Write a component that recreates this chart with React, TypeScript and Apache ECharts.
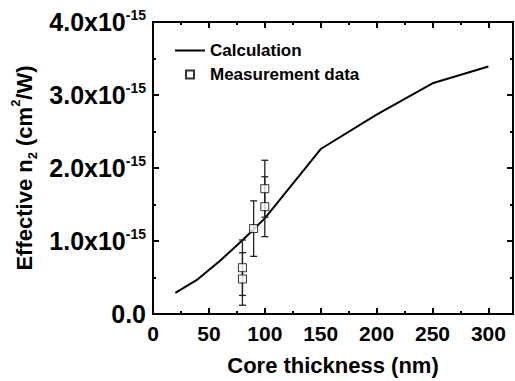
import React, { useEffect, useRef } from "react";
import * as echarts from "echarts";

// Core thickness (nm) and effective n2 in units of 1e-15 cm^2/W
const calcX = [20, 40, 60, 80, 100, 150, 200, 250, 300];
const calcY = [0.29, 0.475, 0.73, 1.01, 1.31, 2.26, 2.73, 3.16, 3.39];

const measX = [80, 80, 90, 100, 100];
const measY = [0.634, 0.48, 1.17, 1.47, 1.716];
const measErr = [0.38, 0.36, 0.38, 0.41, 0.39];

const yTicks = [0, 1, 2, 3, 4];

const FONT = "Liberation Sans";

export default function App() {
  const ref = useRef<HTMLDivElement>(null);
  useEffect(() => {
    if (!ref.current) return;
    const chart = echarts.init(ref.current, undefined, { renderer: "svg" });
    const lineData = calcX.map((x, i) => [x, calcY[i]]);
    const scatterData = measX.map((x, i) => [x, measY[i]]);
    const errData = measX.map((x, i) => [x, measY[i], measErr[i]]);
    const axisLineStyle = { color: "#000", width: 2 };
    const baseX = {
      type: "value" as const,
      min: 0,
      max: 322,
      splitLine: { show: false },
      axisLine: { show: true, onZero: false, lineStyle: axisLineStyle },
    };
    const baseY = {
      type: "value" as const,
      min: 0,
      max: 4,
      interval: 1,
      splitLine: { show: false },
      axisLine: { show: true, onZero: false, lineStyle: axisLineStyle },
      axisTick: { show: true, inside: true, length: 6, lineStyle: { color: "#000", width: 2 } },
      minorTick: { show: true, splitNumber: 2, length: 3, lineStyle: { color: "#000", width: 2 } },
    };
    chart.setOption({
      animation: false,
      backgroundColor: "#fff",
      textStyle: { fontFamily: FONT },
      grid: { left: 153, right: 2, top: 22, bottom: 67, containLabel: false, outerBoundsMode: "none" },
      legend: {
        orient: "vertical",
        left: 170,
        top: 37,
        itemWidth: 30,
        itemHeight: 8,
        itemGap: 7,
        textStyle: { fontFamily: FONT, fontSize: 17, fontWeight: "bold", color: "#000" },
        data: [
          { name: "Calculation", icon: "path://M0,0h30v2h-30z" },
          { name: "Measurement data", icon: "path://M0,0h10v10h-10z" },
        ],
      },
      xAxis: [
        {
          ...baseX,
          position: "bottom",
          interval: 50,
          axisTick: { show: true, inside: true, length: 6, lineStyle: { color: "#000", width: 2 } },
          axisLabel: {
            show: true,
            margin: 9,
            fontFamily: FONT,
            fontSize: 21,
            fontWeight: "bold",
            color: "#000",
            showMaxLabel: false,
          },
          name: "Core thickness (nm)",
          nameLocation: "middle",
          nameGap: 40,
          nameMoveOverlap: false,
          nameTextStyle: { fontFamily: FONT, fontSize: 22, fontWeight: "bold", color: "#000" },
        },
        {
          ...baseX,
          position: "bottom",
          interval: 25,
          axisTick: { show: true, inside: true, length: 3, lineStyle: { color: "#000", width: 2 } },
          axisLabel: { show: false },
        },
        {
          ...baseX,
          position: "top",
          interval: 50,
          axisTick: { show: true, inside: true, length: 6, lineStyle: { color: "#000", width: 2 } },
          axisLabel: { show: false },
        },
        {
          ...baseX,
          position: "top",
          interval: 25,
          axisTick: { show: true, inside: true, length: 3, lineStyle: { color: "#000", width: 2 } },
          axisLabel: { show: false },
        },
      ],
      yAxis: [
        {
          ...baseY,
          position: "left",
          axisLabel: {
            show: true,
            margin: 7,
            color: "#000",
            fontFamily: FONT,
            fontSize: 25,
            fontWeight: "bold",
            formatter: (v: number) => {
              const idx = yTicks.indexOf(v);
              if (idx === 0) return "{m|0.0}";
              return `{m|${v.toFixed(1)}x10}{s|-15}`;
            },
            rich: {
              m: { fontFamily: FONT, fontSize: 25, fontWeight: "bold", color: "#000", lineHeight: 29 },
              s: { fontFamily: FONT, fontSize: 14, fontWeight: "bold", color: "#000", lineHeight: 14, verticalAlign: "top" },
            },
          },
          name: "{a|Effective n}{b|2}{a| (cm}{c|2}{a|/W)}",
          nameLocation: "middle",
          nameGap: 114,
          nameMoveOverlap: false,
          nameTextStyle: {
            color: "#000",
            rich: {
              a: { fontFamily: FONT, fontSize: 22, fontWeight: "bold", color: "#000", lineHeight: 30 },
              b: { fontFamily: FONT, fontSize: 13, fontWeight: "bold", color: "#000", lineHeight: 13, verticalAlign: "bottom" },
              c: { fontFamily: FONT, fontSize: 13, fontWeight: "bold", color: "#000", lineHeight: 13, verticalAlign: "top" },
            },
          },
        },
        {
          ...baseY,
          position: "right",
          axisLabel: { show: false },
        },
      ],
      series: [
        {
          name: "Calculation",
          type: "line",
          xAxisIndex: 0,
          yAxisIndex: 0,
          data: lineData,
          symbol: "none",
          lineStyle: { color: "#000", width: 2 },
          itemStyle: { color: "#000" },
          z: 2,
        },
        {
          name: "Error",
          type: "custom",
          xAxisIndex: 0,
          yAxisIndex: 0,
          data: errData,
          encode: { x: 0, y: 1 },
          z: 3,
          renderItem: (params: any, api: any) => {
            const x = api.value(0);
            const y = api.value(1);
            const e = api.value(2);
            const top = api.coord([x, y + e]);
            const bot = api.coord([x, y - e]);
            const hw = 3.5;
            const style = { stroke: "#222", lineWidth: 1.3 };
            return {
              type: "group",
              children: [
                { type: "line", shape: { x1: top[0], y1: top[1], x2: bot[0], y2: bot[1] }, style },
                { type: "line", shape: { x1: top[0] - hw, y1: top[1], x2: top[0] + hw, y2: top[1] }, style },
                { type: "line", shape: { x1: bot[0] - hw, y1: bot[1], x2: bot[0] + hw, y2: bot[1] }, style },
              ],
            };
          },
        },
        {
          name: "Measurement data",
          type: "scatter",
          xAxisIndex: 0,
          yAxisIndex: 0,
          data: scatterData,
          symbol: "rect",
          symbolSize: 8,
          itemStyle: { color: "#fff", borderColor: "#000", borderWidth: 1 },
          z: 4,
        },
      ],
    });
    return () => chart.dispose();
  }, []);
  return <div ref={ref} style={{ width: 515, height: 381, position: "absolute", left: 0, top: 0 }} />;
}
